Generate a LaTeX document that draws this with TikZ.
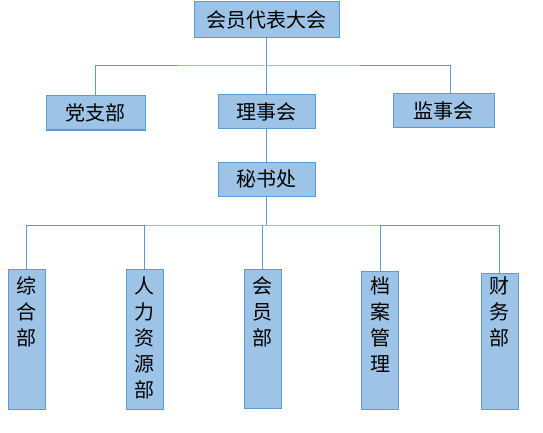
\documentclass[tikz,border=0pt]{standalone}
\usepackage{fontspec}
\newfontfamily\cjk{Noto Sans CJK SC}
\usetikzlibrary{positioning}
\definecolor{boxfill}{HTML}{9DC3E6}
\definecolor{boxline}{HTML}{5B9BD5}
\begin{document}
\begin{tikzpicture}[x = 1pt, y = -1pt, line width = 1pt,
    unit/.style = {draw = boxline, fill = boxfill, inner sep = 0pt, font = \cjk\fontsize{20}{26}\selectfont},
    dept/.style = {unit, minimum width = 37pt, anchor = north},
    colText/.style = {font = \cjk\fontsize{20}{26}\selectfont, align = center, inner sep = 0pt, anchor = north},
    link/.style = {draw = boxline}]
  \useasboundingbox (0,0) rectangle (543,433);
  % top levels
  \node [unit, minimum width = 145pt, minimum height = 36pt] (dahui) at (266.5,20) {会员代表大会};
  \node [unit, minimum width = 99pt, minimum height = 34pt] (dang) at (95.5,113) {党支部};
  \node [unit, minimum width = 97pt, minimum height = 34pt] (li) at (266.5,112) {理事会};
  \node [unit, minimum width = 101pt, minimum height = 34pt] (jian) at (443.5,111) {监事会};
  \node [unit, minimum width = 97pt, minimum height = 34pt] (mishu) at (266.5,179) {秘书处};
  % departments
  \node [dept, minimum height = 140pt] (zonghe) at (26.5,269) {};
  \node [dept, minimum height = 140pt] (renli) at (144.5,269) {};
  \node [dept, minimum height = 139pt] (huiyuan) at (262.5,269) {};
  \node [dept, minimum height = 138pt] (dangan) at (380,271) {};
  \node [dept, minimum height = 136pt] (caiwu) at (499.5,273) {};
  \node [colText] (zongheT) at (zonghe |- 0,276) {综\\合\\部};
  \node [colText] (renliT) at (renli |- 0,276) {人\\力\\资\\源\\部};
  \node [colText] (huiyuanT) at (huiyuan |- 0,276) {会\\员\\部};
  \node [colText] (danganT) at (dangan |- 0,276) {档\\案\\管\\理};
  \node [colText] (caiwuT) at (caiwu |- 0,276) {财\\务\\部};
  % connectors
  \coordinate (bus1) at (265,66);
  \coordinate (bus2) at (263,225);
  \draw [link] (dahui) -- (li);
  \draw [link] (dang) |- (bus1) -| ([xshift = 7pt]jian.north);
  \draw [link] (li) -- (mishu);
  \draw [link] (mishu) -- (mishu |- bus2);
  \draw [link] (zonghe) |- (bus2) -| (caiwu);
  \draw [link] (renli) -- (renli |- bus2);
  \draw [link] (huiyuan) -- (huiyuan |- bus2);
  \draw [link] (dangan) -- (dangan |- bus2);
\end{tikzpicture}
\end{document}
